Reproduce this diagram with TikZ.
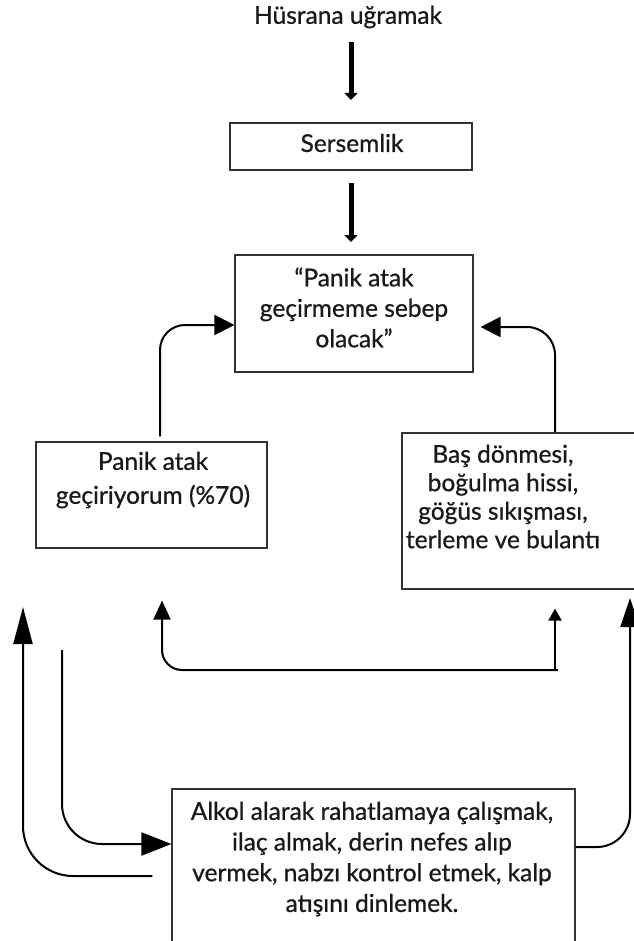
\documentclass[tikz,border=0pt]{standalone}
\usepackage{fontspec}
\setmainfont{Lato}
\newfontface\medf{Lato}[FakeBold=0.8]
\usetikzlibrary{arrows.meta}
\begin{document}
\begin{tikzpicture}[x=1pt,y=-1pt,
  box/.style={draw=black!80,line width=1.1pt,inner sep=0pt},
  txt/.style={align=center,inner sep=0pt,text=black!90},
  conn/.style={line width=2pt,draw=black},
  bigarr/.style={line width=5pt,-{Triangle[width=13pt,length=7pt]}},
]
\useasboundingbox (0,0) rectangle (633,941);
% boxes
\node[box,minimum width=242pt,minimum height=47pt] (sers) at (351,146.5) {};
\node[box,minimum width=238pt,minimum height=117pt] (panik) at (354,313.5) {};
\node[box,minimum width=231pt,minimum height=106pt] (lbox) at (151.5,495) {};
\node[box,minimum width=243pt,minimum height=156pt] (rbox) at (523.5,511) {};
\node[box,minimum width=403pt,minimum height=170pt] (bbox) at (373.5,874) {};
% texts
\node[txt,font=\medf\fontsize{24.5}{30}\selectfont] (top) at (348,17) {Hüsrana uğramak};
\node[txt,font=\medf\fontsize{24.5}{30}\selectfont] (sersT) at (352,143) {Sersemlik};
\node[txt,font=\medf\fontsize{24.5}{30.5}\selectfont] (panikT) at (354,307.5) {“Panik atak\\geçirmeme sebep\\olacak”};
\node[txt,font=\medf\fontsize{24.5}{34}\selectfont] (lboxT) at (153,480) {Panik atak\\geçiriyorum (\%70)};
\node[txt,font=\medf\fontsize{24.5}{28.5}\selectfont] (rboxT) at (503,496.5) {Baş dönmesi,\\boğulma hissi,\\göğüs sıkışması,\\terleme ve bulantı};
\node[txt,font=\medf\fontsize{24.5}{30.7}\selectfont] (bboxT) at (372,859) {Alkol alarak rahatlamaya çalışmak,\\ilaç almak, derin nefes alıp\\vermek, nabzı kontrol etmek, kalp\\atışını dinlemek.};
% coordinates
\coordinate (t1s) at (351,42);
\coordinate (t1e) at (351,100);
\coordinate (t2s) at (351,183);
\coordinate (t2e) at (351,242);
\coordinate (uL) at ([xshift=10.5pt,yshift=-52pt]lbox.south);
\coordinate (uR) at ([xshift=31.5pt,yshift=-19pt]rbox.south);
\coordinate (uB) at (558,670);
\coordinate (uB2) at (555,670);
\coordinate (oL) at (23,607);
\coordinate (iS) at (62,650);
\coordinate (oR) at (630,598);
% connectors
\draw[bigarr] (t1s) -- (t1e);
\draw[bigarr] (t2s) -- (t2e);
\draw[conn,rounded corners=25pt,-{Triangle[width=20pt,length=20pt]}] ([xshift=8.5pt,yshift=5pt]lbox.north) |- ([yshift=-11.5pt]panik.west);
\draw[conn,rounded corners=28pt,-{Triangle[width=20pt,length=20pt]}] ([xshift=31.5pt]rbox.north) |- ([xshift=7pt,yshift=-13.5pt]panik.east);
\draw[conn,rounded corners=20pt,-{Triangle[width=17pt,length=19pt]}] (uB) -| (uL);
\draw[conn,-{Triangle[width=13pt,length=12pt]}] (uB2) -- (uR);
\draw[conn,rounded corners=50pt,-{Triangle[width=19pt,length=37pt]}] ([xshift=-19pt,yshift=-2pt]bbox.west) -| (oL);
\draw[conn,rounded corners=40pt,-{Triangle[width=23pt,length=30pt]}] (iS) |- ([yshift=30pt]bbox.west);
\draw[conn,rounded corners=33pt,-{Triangle[width=19pt,length=29pt]}] ([yshift=27pt]bbox.east) -| (oR);
\end{tikzpicture}
\end{document}
